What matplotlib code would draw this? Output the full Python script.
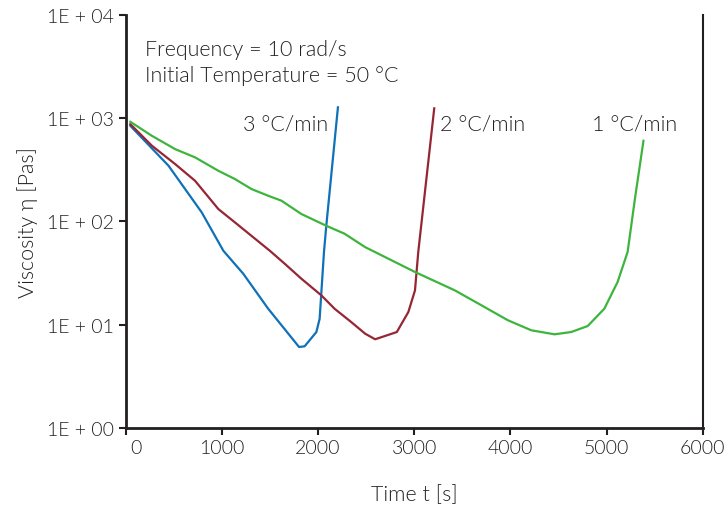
import matplotlib.pyplot as plt
import matplotlib.transforms as mtransforms
import numpy as np

plt.rcParams['font.family'] = ['Lato', 'DejaVu Sans']
plt.rcParams['font.weight'] = 300
plt.rcParams['axes.labelweight'] = 300

# 3 degC/min
t_3 = [50, 447, 792, 1017, 1224, 1483, 1804, 1862, 1984, 2018, 2063, 2087, 2208]
log_3 = [2.926, 2.539, 2.087, 1.715, 1.492, 1.153, 0.782, 0.789, 0.927, 1.056, 1.703, 1.957, 3.105]

# 2 degC/min
t_2 = [50, 274, 516, 723, 965, 1137, 1500, 1655, 1828, 2035, 2173, 2346, 2491,
       2595, 2820, 2940, 3009, 3043, 3209]
log_2 = [2.942, 2.733, 2.555, 2.393, 2.119, 1.990, 1.715, 1.589, 1.444, 1.283,
         1.153, 1.024, 0.911, 0.857, 0.927, 1.121, 1.331, 1.703, 3.095]

# 1 degC/min
t_1 = [50, 274, 516, 723, 965, 1137, 1310, 1483, 1621, 1828, 2087, 2277, 2491,
       3009, 3423, 3700, 3975, 4218, 4459, 4632, 4804, 4977, 5115, 5219, 5300, 5384]
log_1 = [2.965, 2.829, 2.700, 2.620, 2.490, 2.410, 2.313, 2.248, 2.200, 2.071,
         1.957, 1.880, 1.750, 1.509, 1.331, 1.186, 1.041, 0.944, 0.905, 0.927,
         0.985, 1.153, 1.412, 1.703, 2.250, 2.781]

x_ticks = [0, 1000, 2000, 3000, 4000, 5000, 6000]
y_ticks = [1, 10, 100, 1000, 10000]
y_labels = ['1E + 00', '1E + 01', '1E + 02', '1E + 03', '1E + 04']

ink = '#231f20'
fs = 15.5
fig = plt.figure(figsize=(7.28, 5.06), dpi=100)
ax = fig.add_axes([0.1724, 0.1528, 0.7929, 0.8156])

ax.plot(t_3, 10 ** np.array(log_3), color='#0f72b8', lw=1.6)
ax.plot(t_2, 10 ** np.array(log_2), color='#962634', lw=1.6)
ax.plot(t_1, 10 ** np.array(log_1), color='#3db53d', lw=1.6)

ax.set_yscale('log')
ax.set_xlim(0, 6000)
ax.set_ylim(1, 10000)
ax.set_xticks(x_ticks)
ax.set_xticklabels([str(v) for v in x_ticks])
ax.set_yticks(y_ticks)
ax.set_yticklabels(y_labels)
ax.yaxis.set_minor_locator(plt.NullLocator())
ax.tick_params(colors=ink, labelsize=14, width=1.5, length=5)
# the "0" label sits a bit to the right in the original
lab0 = ax.get_xticklabels()[0]
lab0.set_transform(lab0.get_transform() + mtransforms.ScaledTranslation(10 / 100, 0, fig.dpi_scale_trans))

ax.spines['top'].set_visible(False)
for s in ['left', 'bottom', 'right']:
    ax.spines[s].set_color(ink)
    ax.spines[s].set_linewidth(2)
ax.spines['right'].set_linewidth(1.5)

ax.set_ylabel('Viscosity η [Pas]', fontsize=fs, color=ink, labelpad=6)
ax.set_xlabel('Time t [s]', fontsize=fs, color=ink, labelpad=20)

ax.text(200, 10 ** 3.67, 'Frequency = 10 rad/s', fontsize=fs, color=ink, va='center')
ax.text(200, 10 ** 3.42, 'Initial Temperature = 50 °C', fontsize=fs, color=ink, va='center')
ax.text(2110, 10 ** 2.95, '3 °C/min', fontsize=fs, color=ink, va='center', ha='right')
ax.text(3270, 10 ** 2.95, '2 °C/min', fontsize=fs, color=ink, va='center')
ax.text(4850, 10 ** 2.95, '1 °C/min', fontsize=fs, color=ink, va='center')

fig.savefig('out.png', dpi=100)
